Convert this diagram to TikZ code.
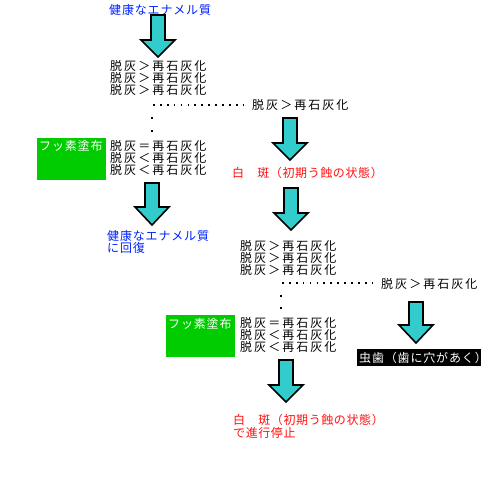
\documentclass[tikz,border=0pt]{standalone}
\usepackage{fontspec}
\setmainfont{Noto Sans CJK JP}
\newfontfamily\eqfont[LetterSpace=17]{Noto Sans CJK JP}
\newfontfamily\kanafont[LetterSpace=7]{Noto Sans CJK JP}
\newfontfamily\redfont[LetterSpace=5]{Noto Sans CJK JP}
\definecolor{teal}{HTML}{33CCCC}
\definecolor{ggreen}{HTML}{00CC00}
\definecolor{bblue}{HTML}{0022FF}
\definecolor{rred}{HTML}{FF1111}
\tikzset{
  txt/.style={anchor=base west, inner sep=0pt, font=\fontsize{12}{12}\selectfont},
  eqtxt/.style={txt, font=\fontsize{12}{12}\eqfont},
  bluetxt/.style={txt, text=bblue, font=\fontsize{12}{12}\kanafont},
  redtxt/.style={txt, text=rred, font=\fontsize{12}{12}\redfont},
  whitetxt/.style={txt, text=white, font=\fontsize{12}{12}\kanafont},
  dotline/.style={line width=1.7pt, dash pattern=on 1.7pt off 5.2pt},
  dotmark/.style={fill=black},
  greenbox/.style={fill=ggreen},
  blackbox/.style={fill=black},
  pics/bigarrow/.style args={#1/#2}{code={
    \draw[fill=teal, line width=1.6pt, line join=miter]
      (-7,0) -- (7,0) -- (7,#1) -- (17,#1) -- (0,#2) -- (-17,#1) -- (-7,#1) -- cycle;
  }}
}
\begin{document}
\begin{tikzpicture}[x=1pt,y=-1pt]
\useasboundingbox (0,0) rectangle (500,500);
\fill[white] (0,0) rectangle (500,500);

% top
\node[bluetxt] (top) at (109,15) {健康なエナメル質};
\pic at (158,15) {bigarrow=25/42};

\node[eqtxt] (a1) at (110,71) {脱灰＞再石灰化};
\node[eqtxt] (a2) at (110,83) {脱灰＞再石灰化};
\node[eqtxt] (a3) at (110,95) {脱灰＞再石灰化};

\coordinate (da1) at (153,105);
\coordinate (da2) at (249,105);
\draw[dotline] (da1) -- (da2);
\node[eqtxt] (a4) at (252,110) {脱灰＞再石灰化};
\fill[dotmark] (151,117) rectangle (153,119);
\fill[dotmark] (151,130) rectangle (153,132);

\fill[greenbox] (37,138) rectangle (106,180);
\node[whitetxt] (f1) at (39,150) {フッ素塗布};
\node[eqtxt] (b1) at (110,150) {脱灰＝再石灰化};
\node[eqtxt] (b2) at (110,162) {脱灰＜再石灰化};
\node[eqtxt] (b3) at (110,174) {脱灰＜再石灰化};

\pic at (152,183) {bigarrow=24/42};
\node[bluetxt] (h1) at (107,240) {健康なエナメル質};
\node[bluetxt] (h2) at (107,252) {に回復};

% right branch 1
\pic at (290,118) {bigarrow=25/42};
\node[redtxt] (w1) at (232,177) {白　斑（初期う蝕の状態）};
\pic at (291,188) {bigarrow=25/42};

\node[eqtxt] (c1) at (240,250) {脱灰＞再石灰化};
\node[eqtxt] (c2) at (240,262) {脱灰＞再石灰化};
\node[eqtxt] (c3) at (240,274) {脱灰＞再石灰化};

\coordinate (dc1) at (282,283);
\coordinate (dc2) at (378,283);
\draw[dotline] (dc1) -- (dc2);
\node[eqtxt] (c4) at (381,288) {脱灰＞再石灰化};
\fill[dotmark] (280,295) rectangle (282,297);
\fill[dotmark] (280,307) rectangle (282,309);

\fill[greenbox] (166,315) rectangle (235,357);
\node[whitetxt] (f2) at (168,328) {フッ素塗布};
\node[eqtxt] (d1) at (240,327) {脱灰＝再石灰化};
\node[eqtxt] (d2) at (240,339) {脱灰＜再石灰化};
\node[eqtxt] (d3) at (240,351) {脱灰＜再石灰化};

\pic at (416,302) {bigarrow=23/41};
\fill[blackbox] (357,349) rectangle (481,366);
\node[whitetxt] (cav) at (359,362) {虫歯（歯に穴があく）};

\pic at (286,360) {bigarrow=25/42};
\node[redtxt] (w2) at (233,424) {白　斑（初期う蝕の状態）};
\node[redtxt] (w3) at (233,437) {で進行停止};
\end{tikzpicture}
\end{document}
